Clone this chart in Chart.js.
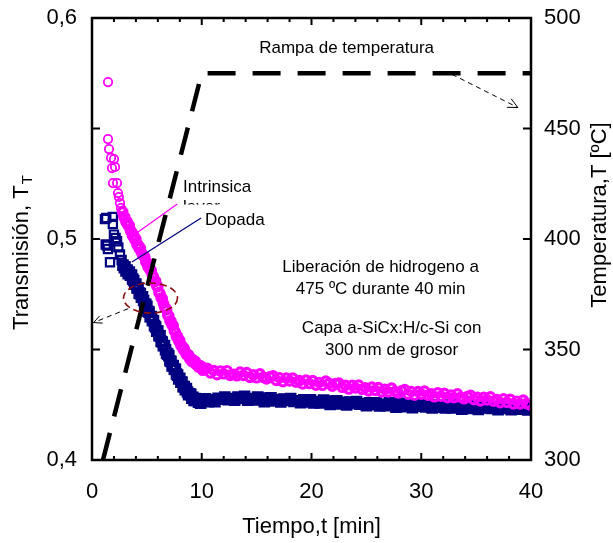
<!DOCTYPE html>
<html>
<head>
<meta charset="utf-8">
<title>Transmisión durante la rampa de temperatura</title>
<script src="https://cdn.jsdelivr.net/npm/chart.js@4.4.0/dist/chart.umd.min.js"></script>
<style>
  html, body { margin: 0; padding: 0; background: #fff; }
  #wrap { width: 613px; height: 543px; }
</style>
</head>
<body>
<div id="wrap"><canvas id="annealChart" width="613" height="543"></canvas></div>
<script>
// Temperature ramp (right axis, ºC)
const rampTime = [1.0, 10, 40];
const rampTemp = [300, 475, 475];

// Intrinsic layer transmission (magenta circles)
const intrinsicTime = [
  1.46, 1.46, 1.55, 1.73, 2.0, 1.82, 2.1, 1.91, 2.28, 2.37, 2.45, 2.55, 2.64, 2.73,
  2.8, 2.9, 3.0, 3.1, 3.2, 3.3, 3.4, 3.5, 3.6, 3.7, 3.8, 3.9, 4.0, 4.1, 4.2, 4.3, 4.4,
  4.5, 4.6, 4.7, 4.8, 4.9, 5.0, 5.1, 5.2, 5.3, 5.4, 5.5, 5.6, 5.7, 5.8, 5.9, 6.0, 6.1,
  6.2, 6.3, 6.4, 6.5, 6.6, 6.7, 6.8, 6.9, 7.0, 7.1, 7.2, 7.3, 7.4, 7.5, 7.6, 7.7, 7.8,
  7.9, 8.0, 8.1, 8.2, 8.3, 8.4, 8.5, 8.6, 8.7, 8.8, 8.9, 9.0, 9.1, 9.2, 9.3, 9.4, 9.5,
  9.6, 9.7, 9.8, 9.9, 10.0, 10.1, 10.2,
  10.5, 10.8, 11.1, 11.4, 11.7, 12.0, 12.3, 12.6, 12.9, 13.2, 13.5, 13.8, 14.1, 14.4,
  14.7, 15.0, 15.3, 15.6, 15.9, 16.2, 16.5, 16.8, 17.1, 17.4, 17.7, 18.0, 18.3, 18.6,
  18.9, 19.2, 19.5, 19.8, 20.1, 20.4, 20.7, 21.0, 21.3, 21.6, 21.9, 22.2, 22.5, 22.8,
  23.1, 23.4, 23.7, 24.0, 24.3, 24.6, 24.9, 25.2, 25.5, 25.8, 26.1, 26.4, 26.7, 27.0,
  27.3, 27.6, 27.9, 28.2, 28.5, 28.8, 29.1, 29.4, 29.7, 30.0, 30.3, 30.6, 30.9, 31.2,
  31.5, 31.8, 32.1, 32.4, 32.7, 33.0, 33.3, 33.6, 33.9, 34.2, 34.5, 34.8, 35.1, 35.4,
  35.7, 36.0, 36.3, 36.6, 36.9, 37.2, 37.5, 37.8, 38.1, 38.4, 38.7, 39.0, 39.3, 39.6,
  39.9
];
const intrinsicT = [
  0.5710, 0.5452, 0.5407, 0.5367, 0.5362, 0.5321, 0.5326, 0.5253, 0.5253, 0.5208, 0.5190, 0.5163, 0.5140, 0.5122,
  0.5123, 0.5099, 0.5098, 0.5076, 0.5079, 0.5061, 0.5062, 0.5038, 0.5034, 0.5014, 0.5018, 0.4997, 0.5000, 0.4974, 0.4974, 0.4957, 0.4960,
  0.4940, 0.4928, 0.4924, 0.4920, 0.4896, 0.4895, 0.4874, 0.4876, 0.4859, 0.4858, 0.4835, 0.4829, 0.4808, 0.4809, 0.4787, 0.4785, 0.4758,
  0.4753, 0.4733, 0.4732, 0.4710, 0.4693, 0.4688, 0.4680, 0.4655, 0.4652, 0.4629, 0.4629, 0.4610, 0.4608, 0.4584, 0.4578, 0.4558, 0.4559,
  0.4539, 0.4540, 0.4517, 0.4517, 0.4501, 0.4505, 0.4489, 0.4477, 0.4478, 0.4476, 0.4458, 0.4461, 0.4445, 0.4453, 0.4442, 0.4447, 0.4431,
  0.4432, 0.4420, 0.4429, 0.4416, 0.4423, 0.4406, 0.4411,
  0.4415, 0.4394, 0.4405, 0.4386, 0.4403, 0.4390, 0.4404, 0.4383, 0.4388, 0.4381, 0.4398, 0.4383, 0.4396, 0.4374,
  0.4385, 0.4372, 0.4390, 0.4374, 0.4367, 0.4376, 0.4381, 0.4360, 0.4372, 0.4354, 0.4371, 0.4358, 0.4371, 0.4352,
  0.4359, 0.4344, 0.4362, 0.4346, 0.4359, 0.4339, 0.4351, 0.4338, 0.4357, 0.4347, 0.4334, 0.4346, 0.4348, 0.4329,
  0.4338, 0.4321, 0.4338, 0.4326, 0.4339, 0.4320, 0.4327, 0.4313, 0.4330, 0.4315, 0.4328, 0.4308, 0.4320, 0.4308,
  0.4325, 0.4310, 0.4303, 0.4313, 0.4319, 0.4298, 0.4310, 0.4293, 0.4310, 0.4298, 0.4312, 0.4293, 0.4300, 0.4286,
  0.4304, 0.4289, 0.4302, 0.4282, 0.4294, 0.4282, 0.4299, 0.4284, 0.4277, 0.4287, 0.4293, 0.4273, 0.4284, 0.4267,
  0.4284, 0.4272, 0.4286, 0.4266, 0.4274, 0.4259, 0.4277, 0.4261, 0.4275, 0.4254, 0.4266, 0.4254, 0.4271, 0.4256,
  0.4249
];

// Doped layer transmission (navy squares)
const dopedTime = [
  1.18, 1.3, 1.9, 1.9, 1.37, 1.25, 1.45, 1.64, 2.0, 2.28, 2.15, 2.4, 2.55, 2.7, 2.82, 2.95,
  3.0, 3.1, 3.2, 3.3, 3.4, 3.5, 3.6, 3.7, 3.8, 3.9, 4.0, 4.1, 4.2, 4.3, 4.4, 4.5, 4.6,
  4.7, 4.8, 4.9, 5.0, 5.1, 5.2, 5.3, 5.4, 5.5, 5.6, 5.7, 5.8, 5.9, 6.0, 6.1, 6.2, 6.3,
  6.4, 6.5, 6.6, 6.7, 6.8, 6.9, 7.0, 7.1, 7.2, 7.3, 7.4, 7.5, 7.6, 7.7, 7.8, 7.9, 8.0,
  8.1, 8.2, 8.3, 8.4, 8.5, 8.6, 8.7, 8.8, 8.9, 9.0, 9.1, 9.2, 9.3, 9.4, 9.5, 9.6, 9.7,
  9.8, 9.9, 10.0,
  10.3, 10.6, 10.9, 11.2, 11.5, 11.8, 12.1, 12.4, 12.7, 13.0, 13.3, 13.6, 13.9, 14.2,
  14.5, 14.8, 15.1, 15.4, 15.7, 16.0, 16.3, 16.6, 16.9, 17.2, 17.5, 17.8, 18.1, 18.4,
  18.7, 19.0, 19.3, 19.6, 19.9, 20.2, 20.5, 20.8, 21.1, 21.4, 21.7, 22.0, 22.3, 22.6,
  22.9, 23.2, 23.5, 23.8, 24.1, 24.4, 24.7, 25.0, 25.3, 25.6, 25.9, 26.2, 26.5, 26.8,
  27.1, 27.4, 27.7, 28.0, 28.3, 28.6, 28.9, 29.2, 29.5, 29.8, 30.1, 30.4, 30.7, 31.0,
  31.3, 31.6, 31.9, 32.2, 32.5, 32.8, 33.1, 33.4, 33.7, 34.0, 34.3, 34.6, 34.9, 35.2,
  35.5, 35.8, 36.1, 36.4, 36.7, 37.0, 37.3, 37.6, 37.9, 38.2, 38.5, 38.8, 39.1, 39.4,
  39.7, 40.0
];
const dopedT = [
  0.5090, 0.5095, 0.5100, 0.5068, 0.4970, 0.4975, 0.4955, 0.4895, 0.5020, 0.4990, 0.5005, 0.4962, 0.4930, 0.4905, 0.4882, 0.4870,
  0.4874, 0.4856, 0.4859, 0.4843, 0.4851, 0.4836, 0.4837, 0.4819, 0.4812, 0.4795, 0.4796, 0.4778, 0.4778, 0.4755, 0.4753, 0.4737, 0.4738,
  0.4722, 0.4704, 0.4704, 0.4695, 0.4673, 0.4669, 0.4648, 0.4649, 0.4632, 0.4630, 0.4608, 0.4602, 0.4583, 0.4583, 0.4563, 0.4562, 0.4537,
  0.4534, 0.4517, 0.4518, 0.4499, 0.4483, 0.4479, 0.4472, 0.4449, 0.4446, 0.4426, 0.4427, 0.4411, 0.4410, 0.4389, 0.4384, 0.4367, 0.4370,
  0.4352, 0.4353, 0.4332, 0.4332, 0.4318, 0.4323, 0.4308, 0.4296, 0.4299, 0.4297, 0.4280, 0.4284, 0.4270, 0.4278, 0.4269, 0.4276, 0.4262,
  0.4267, 0.4257, 0.4270,
  0.4277, 0.4264, 0.4273, 0.4264, 0.4279, 0.4275, 0.4285, 0.4273, 0.4278, 0.4271, 0.4285, 0.4278, 0.4288, 0.4271,
  0.4278, 0.4272, 0.4285, 0.4275, 0.4264, 0.4280, 0.4281, 0.4267, 0.4274, 0.4263, 0.4276, 0.4269, 0.4278, 0.4265,
  0.4268, 0.4259, 0.4272, 0.4263, 0.4272, 0.4258, 0.4265, 0.4258, 0.4271, 0.4262, 0.4251, 0.4267, 0.4268, 0.4254,
  0.4261, 0.4249, 0.4262, 0.4256, 0.4265, 0.4252, 0.4255, 0.4246, 0.4259, 0.4250, 0.4259, 0.4245, 0.4252, 0.4246,
  0.4259, 0.4249, 0.4239, 0.4255, 0.4256, 0.4241, 0.4249, 0.4237, 0.4251, 0.4244, 0.4254, 0.4240, 0.4244, 0.4235,
  0.4249, 0.4239, 0.4249, 0.4235, 0.4242, 0.4236, 0.4249, 0.4240, 0.4230, 0.4245, 0.4247, 0.4233, 0.4240, 0.4229,
  0.4243, 0.4236, 0.4246, 0.4233, 0.4237, 0.4228, 0.4242, 0.4233, 0.4243, 0.4228, 0.4236, 0.4230, 0.4244, 0.4235,
  0.4226, 0.4240
];

const FONT = '"Liberation Sans", Arial, Helvetica, sans-serif';
Chart.defaults.font.family = FONT;
Chart.defaults.color = '#000';

function toPoints(xs, ys) {
  return xs.map((x, i) => ({ x: x, y: ys[i] }));
}

// thin outlines for the sparse first readings, heavier where the run gets dense
function markerStroke(thin, heavy) {
  return c => (c.raw && c.raw.x > 2.75 ? heavy : thin);
}

function arrowHead(ctx, x0, y0, x1, y1, len) {
  const a = Math.atan2(y1 - y0, x1 - x0);
  ctx.beginPath();
  ctx.moveTo(x1 - len * Math.cos(a - 0.45), y1 - len * Math.sin(a - 0.45));
  ctx.lineTo(x1, y1);
  ctx.lineTo(x1 - len * Math.cos(a + 0.45), y1 - len * Math.sin(a + 0.45));
  ctx.stroke();
}

// keep the plot box fixed: no extra room for the end labels
function fixBox(size, key) {
  return scale => {
    scale[key] = size;
    scale.paddingTop = 0;
    scale.paddingBottom = 0;
    scale.paddingLeft = 0;
    scale.paddingRight = 0;
  };
}

// notes, ellipse, arrows and leader lines over the data
const notesPlugin = {
  id: 'notes',
  afterDatasetsDraw(chart) {
    const ctx = chart.ctx;
    const xs = chart.scales.x, ys = chart.scales.y, ts = chart.scales.y2;
    const px = v => xs.getPixelForValue(v);
    const py = v => ys.getPixelForValue(v);
    const pt = v => ts.getPixelForValue(v);
    ctx.save();
    ctx.fillStyle = '#000';
    ctx.font = '17px ' + FONT;
    ctx.textBaseline = 'middle';

    // ramp label and its arrow
    ctx.textAlign = 'center';
    ctx.fillText('Rampa de temperatura', px(23.2), pt(486.5));
    ctx.strokeStyle = '#000';
    ctx.lineWidth = 1;
    ctx.setLineDash([5, 4]);
    let ax0 = px(32.8), ay0 = pt(474.5), ax1 = px(38.8), ay1 = pt(459.5);
    ctx.beginPath(); ctx.moveTo(ax0, ay0); ctx.lineTo(ax1, ay1); ctx.stroke();
    ctx.setLineDash([]);
    arrowHead(ctx, ax0, ay0, ax1, ay1, 11);

    // process notes
    ctx.fillText('Liberación de hidrogeno a', px(26.3), py(0.4873));
    ctx.fillText('475 ºC durante 40 min', px(26.3), py(0.4774));
    ctx.fillText('Capa a-SiCx:H/c-Si con', px(27.3), py(0.4597));
    ctx.fillText('300 nm de grosor', px(27.3), py(0.4498));

    // series labels
    ctx.textAlign = 'left';
    ctx.fillText('Intrinsica', px(8.3), py(0.5235));
    ctx.fillText('layer', px(8.3), py(0.5142));
    ctx.strokeStyle = '#FF00FF';
    ctx.lineWidth = 1.2;
    ctx.beginPath(); ctx.moveTo(px(4.2), py(0.5032)); ctx.lineTo(px(7.77), py(0.5158)); ctx.stroke();
    ctx.fillStyle = '#fff';
    ctx.fillRect(px(8.0), py(0.5156), px(16.7) - px(8.0), py(0.5014) - py(0.5156));
    ctx.fillStyle = '#000';
    ctx.fillText('Dopada', px(10.3), py(0.5086));
    ctx.strokeStyle = '#000080';
    ctx.lineWidth = 1.2;
    ctx.beginPath(); ctx.moveTo(px(3.64), py(0.4896)); ctx.lineTo(px(9.94), py(0.5095)); ctx.stroke();

    // ellipse around the crossing and arrow to the left axis
    ctx.strokeStyle = '#8B1010';
    ctx.lineWidth = 1.6;
    ctx.setLineDash([7, 4]);
    const ex = px(5.33), ey = py(0.4733);
    ctx.beginPath();
    ctx.ellipse(ex, ey, px(5.33 + 2.46) - ex, py(0.4733 - 0.0068) - ey, 0, 0, Math.PI * 2);
    ctx.stroke();
    ctx.strokeStyle = '#000';
    ctx.lineWidth = 1;
    ctx.setLineDash([5, 4]);
    ax0 = px(3.3); ay0 = py(0.4685); ax1 = px(0.15); ay1 = py(0.4622);
    ctx.beginPath(); ctx.moveTo(ax0, ay0); ctx.lineTo(ax1, ay1); ctx.stroke();
    ctx.setLineDash([]);
    arrowHead(ctx, ax0, ay0, ax1, ay1, 9);
    ctx.restore();
  },
  afterDraw(chart) {
    const ctx = chart.ctx;
    const area = chart.chartArea;
    const xs = chart.scales.x, ys = chart.scales.y, ts = chart.scales.y2;
    ctx.save();
    ctx.strokeStyle = '#000';

    // inward tick marks on all four sides
    ctx.lineWidth = 2;
    ctx.beginPath();
    xs.ticks.forEach(t => {
      const x = xs.getPixelForValue(t.value);
      const len = t.value % 10 === 0 ? 7 : 4;
      ctx.moveTo(x, area.bottom); ctx.lineTo(x, area.bottom - len);
      ctx.moveTo(x, area.top); ctx.lineTo(x, area.top + len);
    });
    ys.ticks.forEach(t => {
      const y = ys.getPixelForValue(t.value);
      ctx.moveTo(area.left, y); ctx.lineTo(area.left + 8, y);
    });
    ts.ticks.forEach(t => {
      const y = ts.getPixelForValue(t.value);
      ctx.moveTo(area.right, y); ctx.lineTo(area.right - 8, y);
    });
    ctx.stroke();

    // plot frame
    ctx.lineWidth = 2.5;
    ctx.strokeRect(area.left, area.top, area.right - area.left, area.bottom - area.top);

    // axis titles read bottom to top
    ctx.fillStyle = '#000';
    ctx.textBaseline = 'middle';
    ctx.textAlign = 'left';
    ctx.save();
    ctx.translate(22, 253);
    ctx.rotate(-Math.PI / 2);
    ctx.font = '22px ' + FONT;
    const main = 'Transmisión, T';
    const wMain = ctx.measureText(main).width;
    ctx.font = '15px ' + FONT;
    const wSub = ctx.measureText('T').width;
    const x0 = -(wMain + wSub) / 2;
    ctx.font = '22px ' + FONT;
    ctx.fillText(main, x0, 0);
    ctx.font = '15px ' + FONT;
    ctx.fillText('T', x0 + wMain + 1, 6);
    ctx.restore();

    ctx.save();
    ctx.translate(600, 215);
    ctx.rotate(-Math.PI / 2);
    ctx.font = '22px ' + FONT;
    ctx.textAlign = 'center';
    ctx.fillText('Temperatura,T [ºC]', 0, 0);
    ctx.restore();
    ctx.restore();
  }
};

const ctx = document.getElementById('annealChart').getContext('2d');
const annealChart = new Chart(ctx, {
  type: 'scatter',
  data: {
    datasets: [
      {
        label: 'Rampa de temperatura',
        type: 'line',
        data: toPoints(rampTime, rampTemp),
        yAxisID: 'y2',
        borderColor: '#000',
        borderWidth: 4.5,
        borderDash: [28, 17],
        pointRadius: 0,
        fill: false,
        tension: 0
      },
      {
        label: 'Intrinsica',
        data: toPoints(intrinsicTime, intrinsicT),
        yAxisID: 'y',
        pointStyle: 'circle',
        pointRadius: 4.2,
        pointBorderWidth: markerStroke(1.8, 3.2),
        borderColor: '#FF00FF',
        backgroundColor: 'rgba(255,255,255,0)'
      },
      {
        label: 'Dopada',
        data: toPoints(dopedTime, dopedT),
        yAxisID: 'y',
        pointStyle: 'rect',
        pointRadius: 5.8,
        pointBorderWidth: markerStroke(2.2, 3.4),
        borderColor: '#000080',
        backgroundColor: 'rgba(255,255,255,0)'
      }
    ]
  },
  options: {
    responsive: false,
    animation: false,
    events: [],
    layout: { padding: { top: 18, left: 0, right: 0, bottom: 0 } },
    plugins: {
      legend: { display: false },
      tooltip: { enabled: false }
    },
    scales: {
      x: {
        type: 'linear',
        position: 'bottom',
        min: 0,
        max: 40,
        grid: { display: false, drawTicks: false },
        border: { display: false },
        ticks: {
          stepSize: 2,
          autoSkip: false,
          maxRotation: 0,
          padding: 19,
          font: { size: 22 },
          callback: v => (v % 10 === 0 ? String(v) : '')
        },
        title: {
          display: true,
          text: 'Tiempo,t [min]',
          font: { size: 22 },
          padding: { top: 0, bottom: 3 }
        },
        afterFit: fixBox(83, 'height')
      },
      y: {
        type: 'linear',
        position: 'left',
        min: 0.4,
        max: 0.6,
        grid: { display: false, drawTicks: false },
        border: { display: false },
        ticks: {
          stepSize: 0.05,
          autoSkip: false,
          padding: 15,
          font: { size: 22 },
          callback: v => {
            const h = Math.round(v * 100);
            return h % 10 === 0 ? (h / 100).toFixed(1).replace('.', ',') : '';
          }
        },
        afterFit: fixBox(92, 'width')
      },
      y2: {
        type: 'linear',
        position: 'right',
        min: 300,
        max: 500,
        grid: { display: false, drawTicks: false },
        border: { display: false },
        ticks: {
          stepSize: 50,
          autoSkip: false,
          padding: 13,
          font: { size: 22 }
        },
        afterFit: fixBox(82, 'width')
      }
    }
  },
  plugins: [notesPlugin]
});
</script>
</body>
</html>
